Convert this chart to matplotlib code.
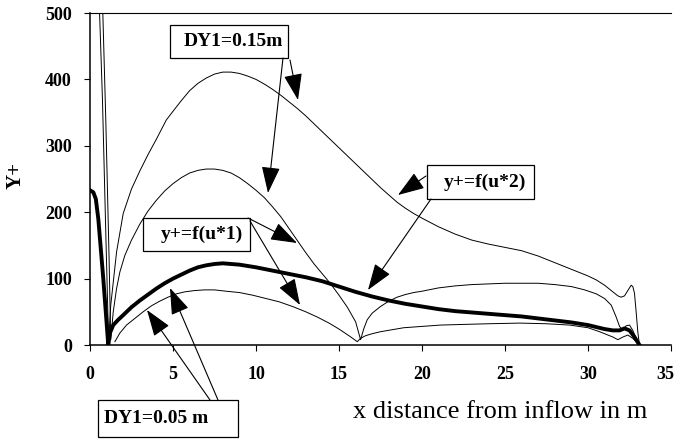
import matplotlib
matplotlib.use("Agg")
import matplotlib.pyplot as plt
import matplotlib.transforms as mtransforms
from matplotlib.patches import Rectangle

W, H = 676, 442
SERIF = ["Liberation Serif", "DejaVu Serif"]

# DY1=0.15 m, y+=f(u*2)  (highest thin curve)
x_015_u2 = [0.55, 0.75, 0.95, 1.12, 1.25, 1.6, 2.0, 2.5, 3.0, 3.5, 4.0, 4.6, 5.0, 5.5,
            6.0, 6.5, 7.0, 7.5, 8.0, 8.5, 9.0, 9.5, 10.0, 10.5, 11.0, 11.5, 12.0,
            12.5, 13.0, 13.5, 14.0, 14.5, 15.0, 15.5, 16.0, 16.5, 17.0, 17.5, 18.0,
            18.5, 19.0, 19.5, 20.0, 21.0, 22.0, 23.0, 24.0, 25.0, 26.0, 27.0, 28.0,
            29.0, 30.0, 30.5, 31.0, 31.5, 31.8, 32.0, 32.2, 32.4, 32.6, 32.7, 32.8,
            32.9, 33.0, 33.1]
y_015_u2 = [520, 370, 170, 5, 60, 140, 198, 235, 262, 287, 310, 339, 352, 368,
            383, 394, 402, 408, 411, 411, 409, 405, 400, 393, 385, 376, 366,
            356, 345, 333, 321, 309, 297, 285, 273, 261, 249, 237, 226,
            215, 206, 198, 191, 178, 167, 158, 152, 147, 142, 134, 124,
            114, 104, 98, 90, 80, 74, 72, 74, 82, 90, 88, 78,
            50, 20, 0]

# DY1=0.15 m, y+=f(u*1)
x_015_u1 = [0.75, 0.95, 1.15, 1.25, 1.4, 1.6, 1.8, 2.1, 2.5, 3.0, 3.5, 4.0, 4.5, 5.0,
            5.5, 6.0, 6.5, 7.0, 7.5, 8.0, 8.5, 9.0, 9.5, 10.0, 10.5, 11.0, 11.5,
            12.0, 12.5, 13.0, 13.5, 14.0, 14.5, 15.0, 15.5, 16.0, 16.3, 16.5, 16.7,
            17.0, 17.5, 18.0, 18.5, 19.0, 19.5, 20.0, 21.0, 22.0, 23.0, 24.0, 25.0,
            26.0, 27.0, 28.0, 29.0, 29.8, 30.5, 31.0, 31.4, 31.7, 31.9, 32.1, 32.3,
            32.5, 32.7, 32.9, 33.1]
y_015_u1 = [520, 340, 130, 8, 50, 85, 110, 135, 158, 182, 202, 218, 232, 243,
            252, 259, 263, 265, 265, 263, 259, 252, 243, 233, 222, 208, 193,
            175, 157, 139, 122, 107, 92, 75, 57, 35, 8, 25, 38,
            48, 58, 66, 72, 76, 79, 81, 86, 89, 91, 92, 93,
            93, 93, 91, 88, 83, 77, 70, 60, 42, 28, 22, 29,
            30, 22, 10, 0]

# DY1=0.05 m, y+=f(u*2)  (thick curve)
x_005_u2 = [0.0, 0.2, 0.35, 0.5, 0.65, 0.8, 0.95, 1.1, 1.2, 1.4, 1.7, 2.0, 2.5, 3.0,
            3.5, 4.0, 4.5, 5.0, 5.5, 6.0, 6.5, 7.0, 7.5, 8.0, 8.5, 9.0, 9.5, 10.0,
            11.0, 12.0, 13.0, 14.0, 15.0, 16.0, 17.0, 18.0, 19.0, 20.0, 21.0, 22.0,
            23.0, 24.0, 25.0, 26.0, 27.0, 28.0, 29.0, 30.0, 30.5, 31.0, 31.5, 31.9,
            32.2, 32.5, 32.8, 33.1]
y_005_u2 = [233, 230, 220, 190, 145, 100, 50, 0, 18, 30, 38, 45, 57, 67,
            76, 85, 93, 100, 106, 112, 117, 120, 122, 123, 122, 121, 119, 117,
            112, 107, 102, 96, 88, 80, 73, 67, 62, 58, 54, 51,
            49, 47, 45, 43, 40, 37, 34, 30, 27, 24, 22, 22,
            25, 22, 12, 0]

# DY1=0.05 m, y+=f(u*1)  (lowest curve)
x_005_u1 = [1.5, 1.8, 2.2, 2.7, 3.2, 3.7, 4.2, 4.7, 5.2, 5.7, 6.3, 6.9, 7.5, 8.2,
            9.0, 9.8, 10.6, 11.4, 12.2, 13.0, 13.7, 14.4, 15.0, 15.6, 16.1, 16.3,
            16.6, 17.0, 17.5, 18.2, 18.9, 20.0, 21.1, 22.5, 24.0, 25.9, 27.5, 28.9,
            30.0, 30.7, 31.2, 31.5, 31.8, 32.1, 32.4, 32.7, 32.9, 33.1]
y_005_u1 = [5, 18, 30, 40, 50, 59, 66, 72, 77, 80, 82, 83, 83, 81,
            79, 75, 70, 65, 58, 50, 42, 33, 24, 14, 5, 10,
            14, 17, 20, 23, 26, 28, 30, 31, 32, 33, 32, 30,
            26, 20, 15, 12, 8, 12, 15, 10, 5, 0]

x_ticks = [0, 5, 10, 15, 20, 25, 30, 35]
y_ticks = [0, 100, 200, 300, 400, 500]

fig = plt.figure(figsize=(W / 100, H / 100), dpi=100)
ax = fig.add_axes([90 / W, 1 - 345 / H, (671 - 90) / W, (345 - 13) / H])

ax.plot(x_015_u2, y_015_u2, color="black", lw=0.7)
ax.plot(x_015_u1, y_015_u1, color="black", lw=0.7)
ax.plot(x_005_u1, y_005_u1, color="black", lw=0.7)
ax.plot(x_005_u2, y_005_u2, color="black", lw=2.8, solid_joinstyle="round")

ax.set_xlim(0, 35)
ax.set_ylim(0, 500)
ax.set_xticks(x_ticks)
ax.set_yticks(y_ticks)
ax.spines["right"].set_visible(False)
for s in ["left", "bottom"]:
    ax.spines[s].set_linewidth(1.1)
ax.spines["top"].set_linewidth(0.8)
ax.tick_params(axis="both", direction="out", length=4, width=0.8, labelsize=13)
ax.tick_params(axis="x", pad=11)
ax.tick_params(axis="y", pad=9)
for lab in ax.get_xticklabels() + ax.get_yticklabels():
    lab.set_family(SERIF)
    lab.set_fontweight("bold")

# nudge the last x tick label so it stays inside the figure
last = ax.get_xticklabels()[-1]
last.set_transform(last.get_transform() +
                   mtransforms.ScaledTranslation(-6 / 100, 0, fig.dpi_scale_trans))

# pixel transform (origin top-left)
px = mtransforms.Affine2D().scale(1 / W, -1 / H).translate(0, 1) + fig.transFigure

fig.text(16, 175, "Y+", transform=px, rotation=90, ha="center", va="center",
         fontsize=15, fontweight="bold", family=SERIF)
fig.text(500, 412, "x distance from inflow in m", transform=px, ha="center",
         va="center", fontsize=19, family=SERIF)

boxes = [
    ((170, 25, 118, 33), (184, 41.5), "DY1=0.15m"),
    ((427, 165, 107, 34), (444, 182), "y+=f(u*2)"),
    ((143, 218, 107, 33), (161, 234.5), "y+=f(u*1)"),
    ((98, 400, 140, 37), (104, 418.5), "DY1=0.05 m"),
]
for (bx, by, bw, bh), (tx, ty), txt in boxes:
    fig.add_artist(Rectangle((bx, by), bw, bh, transform=px, fill=False,
                             lw=0.9, edgecolor="black"))
    fig.text(tx, ty, txt, transform=px, ha="left", va="center", fontsize=14,
             fontweight="bold", family=SERIF)

arrows = [
    ((283, 58), (268, 193)),
    ((290, 60), (298, 100)),
    ((426, 176), (398, 195)),
    ((431, 199), (368, 290)),
    ((248, 218), (297, 243)),
    ((250, 221), (300, 305)),
    ((210, 400), (147, 310)),
    ((218, 400), (170, 288)),
]
for start, tip in arrows:
    ax.annotate("", xy=tip, xytext=start, xycoords=px, textcoords=px,
                annotation_clip=False,
                arrowprops=dict(arrowstyle="-|>,head_length=1.66,head_width=0.58",
                                color="black", lw=0.8, shrinkA=0, shrinkB=0,
                                mutation_scale=10))

fig.savefig("out.png", dpi=100)
